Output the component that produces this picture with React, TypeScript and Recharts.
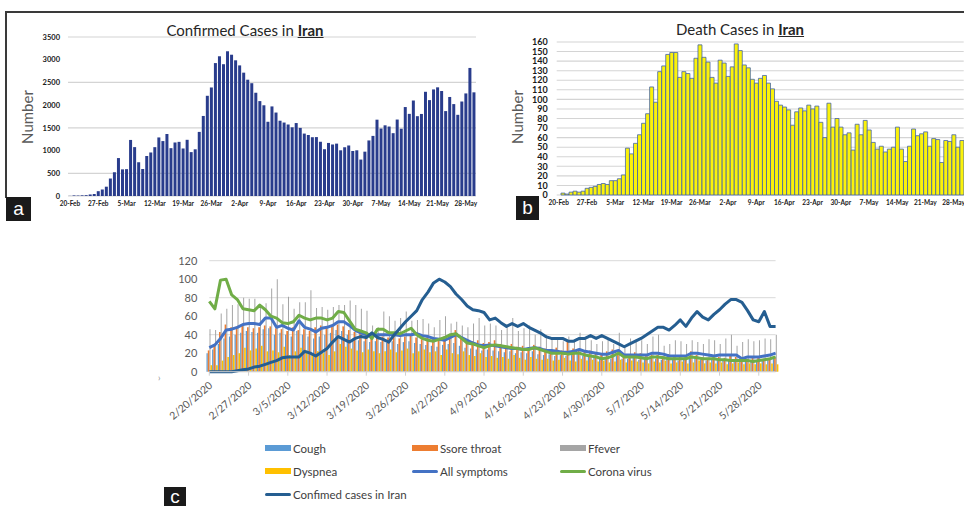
import React from "react";
import { BarChart, Bar, XAxis, YAxis, CartesianGrid, ComposedChart, Line } from "recharts";

const FONT = "Lato, 'Open Sans', Arial, sans-serif";

// Iran daily confirmed cases, 20-Feb .. 30-May
const confirmedDaily = [
  3, 13, 10, 15, 18, 34, 44, 106, 143, 205,
  385, 523, 835, 586, 591, 1234, 1076, 743, 595, 881,
  958, 1075, 1289, 1209, 1365, 1053, 1178, 1192, 1046, 1237,
  966, 1028, 1411, 1762, 2206, 2389, 2926, 3076, 2901, 3186, 3110,
  2987, 2875, 2715, 2560, 2483, 2274, 2089, 1997, 1634, 1972,
  1837, 1657, 1617, 1574, 1512, 1606, 1499, 1374, 1343, 1294,
  1297, 1194, 1030, 1168, 1134, 1153, 1006, 1073, 1112, 991,
  1006, 802, 976, 1223, 1323, 1680, 1485, 1556, 1529, 1383,
  1683, 1481, 1958, 1808, 2102, 1757, 1806, 2294, 2111, 2346,
  2392, 2311, 1869, 2180, 2023, 1787, 2080, 2258, 2819, 2282,
];

// Iran daily deaths, 20-Feb .. 30-May
const deathsDaily = [
  0, 2, 1, 3, 4, 3, 4, 7, 8, 9,
  11, 12, 11, 15, 15, 17, 21, 49, 43, 54,
  63, 75, 85, 113, 97, 129, 135, 147, 149, 149,
  123, 129, 127, 122, 143, 157, 144, 139, 123, 117, 141,
  138, 124, 134, 158, 151, 136, 133, 121, 117, 122,
  125, 117, 111, 98, 94, 92, 89, 73, 87, 91,
  88, 94, 90, 93, 76, 60, 96, 71, 80, 71,
  63, 65, 47, 74, 63, 78, 68, 55, 48, 51,
  45, 48, 50, 71, 48, 35, 51, 69, 62, 64,
  66, 51, 59, 58, 34, 57, 56, 63, 50, 57,
];

const aYTicks = [0, 500, 1000, 1500, 2000, 2500, 3000, 3500];
const bYTicks = [0, 10, 20, 30, 40, 50, 60, 70, 80, 90, 100, 110, 120, 130, 140, 150, 160];
const cYTicks = [0, 20, 40, 60, 80, 100, 120];
const cTickLabels = [
  "2/20/2020", "2/27/2020", "3/5/2020", "3/12/2020", "3/19/2020", "3/26/2020", "4/2/2020", "4/9/2020",
  "4/16/2020", "4/23/2020", "4/30/2020", "5/7/2020", "5/14/2020", "5/21/2020", "5/28/2020",
];

// panel c, 20-Feb .. 31-May
const cough = [
  20, 24, 30, 36, 38, 40, 42, 44, 43, 42, 46, 47, 40, 42, 40, 38, 44, 40, 38, 36,
  38, 40, 42, 45, 44, 40, 36, 34, 33, 32, 33, 32, 31, 33, 30, 32, 33, 31, 30, 29,
  28, 27, 29, 30, 31, 28, 26, 25, 24, 23, 24, 23, 22, 21, 22, 20, 21, 20, 22, 19,
  18, 19, 17, 18, 17, 18, 19, 17, 16, 15, 15, 16, 14, 17, 14, 14, 15, 13, 14, 15,
  14, 13, 14, 13, 12, 13, 15, 14, 13, 12, 13, 12, 13, 12, 11, 12, 12, 11, 12, 12,
  13, 14,
];
const soreThroat = [
  23, 30, 43, 51, 48, 49, 50, 48, 47, 48, 50, 49, 47, 46, 44, 48, 45, 46, 44, 48,
  50, 47, 49, 51, 49, 45, 43, 41, 40, 38, 40, 38, 37, 39, 36, 38, 40, 37, 35, 38,
  36, 35, 38, 40, 45, 38, 35, 33, 34, 31, 32, 34, 30, 28, 30, 27, 28, 26, 29, 27,
  25, 24, 26, 23, 33, 25, 24, 22, 23, 21, 20, 22, 24, 20, 19, 18, 21, 20, 19, 18,
  18, 17, 19, 16, 18, 17, 22, 18, 16, 15, 17, 16, 15, 17, 16, 15, 14, 16, 15, 14,
  14, 15,
];
const fever = [
  46, 45, 63, 68, 72, 73, 80, 79, 79, 73, 74, 90, 100, 73, 81, 68, 75, 75, 88, 69,
  70, 67, 70, 72, 72, 77, 72, 68, 66, 50, 48, 65, 60, 55, 58, 65, 55, 56, 57, 52,
  48, 56, 60, 52, 54, 50, 48, 52, 58, 50, 52, 50, 45, 48, 58, 44, 47, 50, 40, 46,
  40, 36, 35, 33, 38, 32, 42, 36, 34, 30, 33, 36, 30, 42, 28, 36, 33, 34, 30, 38,
  40, 28, 30, 34, 33, 30, 34, 32, 30, 35, 34, 30, 36, 40, 28, 32, 35, 33, 34, 36,
  35, 40,
];
const dyspnea = [
  7, 7, 12, 16, 18, 20, 26, 23, 25, 28, 22, 23, 21, 27, 18, 22, 26, 23, 20, 22,
  20, 18, 22, 30, 27, 25, 23, 21, 24, 22, 20, 22, 24, 21, 23, 25, 20, 22, 24, 21,
  22, 18, 24, 20, 19, 22, 18, 17, 20, 16, 17, 15, 16, 14, 18, 15, 13, 16, 14, 13,
  14, 12, 13, 15, 12, 11, 14, 12, 13, 11, 12, 10, 11, 13, 10, 12, 11, 10, 9, 11,
  10, 12, 9, 10, 11, 9, 10, 12, 9, 10, 9, 10, 8, 9, 10, 8, 9, 8, 9, 8,
  9, 8,
];
const allSymptoms = [
  26, 29, 36, 45, 46, 48, 51, 52, 52, 51, 58, 58, 48, 50, 47, 45, 55, 48, 46, 43,
  47, 48, 50, 54, 54, 50, 45, 42, 40, 40, 40, 40, 40, 40, 39, 40, 40, 41, 39, 38,
  36, 35, 34, 37, 40, 37, 34, 31, 29, 28, 29, 28, 27, 26, 25, 25, 24, 25, 26, 25,
  23, 23, 22, 21, 21, 22, 24, 22, 21, 20, 19, 19, 21, 23, 18, 18, 18, 18, 18, 20,
  20, 19, 17, 17, 17, 17, 20, 20, 19, 18, 17, 18, 18, 18, 18, 14, 16, 16, 16, 17,
  18, 20,
];
const coronaVirus = [
  76, 68, 99, 100, 83, 78, 68, 67, 66, 72, 67, 60, 58, 53, 52, 54, 61, 58, 56, 58,
  58, 56, 58, 65, 64, 55, 46, 44, 42, 36, 46, 46, 42, 42, 41, 44, 47, 40, 36, 34,
  33, 35, 37, 40, 41, 36, 31, 30, 28, 26, 28, 29, 28, 27, 26, 25, 24, 24, 26, 24,
  22, 20, 20, 20, 19, 20, 20, 18, 17, 16, 14, 15, 17, 20, 16, 16, 16, 15, 14, 16,
  16, 15, 14, 14, 14, 14, 16, 15, 14, 14, 14, 13, 13, 12, 12, 12, 12, 11, 12, 13,
  14, 16,
];
const confirmedScaled = [
  0, 0, 0, 0, 0, 1, 2, 3, 5, 6, 8, 10, 12, 15, 16, 16, 16, 22, 20, 17,
  21, 25, 32, 38, 35, 32, 36, 38, 37, 42, 37, 35, 32, 40, 47, 54, 60, 66, 78, 86,
  96, 100, 97, 92, 84, 78, 71, 67, 66, 64, 56, 58, 53, 49, 52, 49, 52, 48, 45, 42,
  38, 36, 36, 36, 33, 33, 36, 36, 39, 36, 39, 36, 33, 30, 27, 30, 33, 36, 40, 44,
  48, 48, 45, 50, 56, 49, 58, 65, 59, 56, 62, 67, 73, 78, 78, 75, 66, 56, 54, 65,
  49, 49,
];

const MONTHS = ["Jan", "Feb", "Mar", "Apr", "May", "Jun"];
const dayLabel = (i: number) => {
  const d = new Date(Date.UTC(2020, 1, 20 + i));
  return `${d.getUTCDate()}-${MONTHS[d.getUTCMonth()]}`;
};

const aData = confirmedDaily.map((v, i) => ({ day: dayLabel(i), cases: v }));
const bData = deathsDaily.map((v, i) => ({ day: dayLabel(i), deaths: v }));
const cData = cough.map((v, i) => ({
  i,
  cough: v,
  sore: soreThroat[i],
  fever: fever[i],
  dyspnea: dyspnea[i],
  all: allSymptoms[i],
  corona: coronaVirus[i],
  confirmed: confirmedScaled[i],
}));

const cBars = [
  { key: "cough", name: "Cough", color: "#5b9bd5", size: 1.3 },
  { key: "sore", name: "Ssore throat", color: "#ed7d31", size: 1.7 },
  { key: "fever", name: "Ffever", color: "#a5a5a5", size: 1.0 },
  { key: "dyspnea", name: "Dyspnea", color: "#ffc000", size: 1.6 },
];
const cLines = [
  { key: "all", name: "All symptoms", color: "#4472c4" },
  { key: "corona", name: "Corona virus", color: "#70ad47" },
  { key: "confirmed", name: "Confimed cases in Iran", color: "#255e91" },
];
const cWeekTicks = cTickLabels.map((_, k) => k * 7);

const abs = (l: number, t: number): React.CSSProperties => ({ position: "absolute", left: l, top: t });

function PanelTag({ x, y, w, h, text }: { x: number; y: number; w: number; h: number; text: string }) {
  return (
    <div
      style={{
        ...abs(x, y),
        width: w,
        height: h,
        background: "#1a1a1a",
        color: "#fff",
        fontFamily: "'Liberation Sans', Arial, sans-serif",
        fontSize: 19,
        lineHeight: `${h}px`,
        textAlign: "center",
      }}
    >
      {text}
    </div>
  );
}

function Title({ cx, y, text }: { cx: number; y: number; text: string }) {
  return (
    <div
      style={{
        ...abs(cx - 120, y),
        width: 240,
        textAlign: "center",
        fontFamily: FONT,
        fontSize: 15,
        color: "#262626",
        whiteSpace: "nowrap",
      }}
    >
      {text} <b style={{ textDecoration: "underline" }}>Iran</b>
    </div>
  );
}

function NumberLabel({ cx, cy }: { cx: number; cy: number }) {
  return (
    <div
      style={{
        ...abs(cx - 40, cy - 9),
        width: 80,
        height: 18,
        textAlign: "center",
        transform: "rotate(-90deg)",
        fontFamily: FONT,
        fontSize: 15,
        color: "#595959",
        lineHeight: "18px",
      }}
    >
      Number
    </div>
  );
}

const CTick = (props: any) => {
  const { x, y, payload } = props;
  const px = x + 4;
  const py = y + 9;
  return (
    <text
      x={px}
      y={py}
      transform={`rotate(-40 ${px} ${py})`}
      textAnchor="end"
      fontFamily={FONT}
      fontSize={10.5}
      fill="#595959"
    >
      {cTickLabels[Math.round(payload.value / 7)]}
    </text>
  );
};

function CLegend() {
  const items = [...cBars.map((b) => ({ ...b, bar: true })), ...cLines.map((l) => ({ ...l, bar: false }))];
  const colX = [265, 412, 560];
  const rowY = [448, 471, 494];
  return (
    <>
      {items.map((it, n) => {
        const x = colX[n % 3];
        const y = rowY[Math.floor(n / 3)];
        return (
          <div key={it.key} style={{ ...abs(x, y - 8), height: 16, display: "flex", alignItems: "center" }}>
            <div
              style={{
                width: 26,
                height: it.bar ? 6 : 3,
                borderRadius: it.bar ? 0 : 2,
                background: it.color,
              }}
            />
            <span style={{ marginLeft: 2, fontFamily: FONT, fontSize: 11.5, color: "#404040", whiteSpace: "nowrap" }}>
              {it.name}
            </span>
          </div>
        );
      })}
    </>
  );
}

const boldTick = (size: number) => ({ fontFamily: FONT, fontSize: size, fontWeight: 700, fill: "#1a1a1a" });

export default function App() {
  return (
    <div style={{ position: "absolute", left: 0, top: 0, width: 964, height: 506, overflow: "hidden", background: "#fff" }}>
      {/* frame */}
      <div style={{ ...abs(5, 11), width: 959, height: 1.5, background: "#3a3a3a" }} />
      <div style={{ ...abs(5, 11), width: 1.5, height: 187, background: "#3a3a3a" }} />

      {/* a: confirmed cases */}
      <div style={abs(0, 0)}>
        <BarChart width={500} height={220} data={aData} margin={{ top: 37, right: 24, bottom: 4, left: 8 }} barCategoryGap="12%">
          <CartesianGrid vertical={false} stroke="#d4d4d4" strokeWidth={1.2} />
          <YAxis
            width={60}
            domain={[0, 3500]}
            ticks={aYTicks}
            axisLine={false}
            tickLine={false}
            tickSize={0}
            tickMargin={8}
            tick={boldTick(7.5)}
          />
          <XAxis
            dataKey="day"
            interval={6}
            height={20}
            axisLine={false}
            tickLine={false}
            tickSize={0}
            tickMargin={5}
            tick={boldTick(6.5)}
          />
          <Bar dataKey="cases" fill="#293c8c" isAnimationActive={false} />
        </BarChart>
      </div>
      <Title cx={245} y={21} text="Confirmed Cases in" />
      <NumberLabel cx={27} cy={117} />
      <PanelTag x={6} y={197} w={25} h={24} text="a" />

      {/* b: death cases */}
      <div style={abs(500, 0)}>
        <BarChart width={466} height={220} data={bData} margin={{ top: 42, right: 2.3, bottom: 5, left: 6.7 }} barCategoryGap="6%">
          <CartesianGrid vertical={false} stroke="#d4d4d4" strokeWidth={1.1} />
          <YAxis
            width={50}
            domain={[0, 160]}
            ticks={bYTicks}
            interval={0}
            axisLine={false}
            tickLine={false}
            tickSize={0}
            tickMargin={9}
            tick={boldTick(9)}
          />
          <XAxis
            dataKey="day"
            interval={6}
            height={20}
            axisLine={false}
            tickLine={false}
            tickSize={0}
            tickMargin={5}
            tick={boldTick(6.5)}
          />
          <Bar dataKey="deaths" fill="#fbf20a" stroke="#3a5cab" strokeWidth={0.75} isAnimationActive={false} />
        </BarChart>
      </div>
      <Title cx={740} y={20} text="Death Cases in" />
      <NumberLabel cx={517} cy={117} />
      <PanelTag x={516} y={196} w={23} h={24} text="b" />

      {/* c: symptoms vs confirmed */}
      <div style={abs(0, 240)}>
        <ComposedChart
          width={964}
          height={266}
          data={cData}
          margin={{ top: 20.7, right: 188.4, bottom: 84.3, left: 169.3 }}
          barGap={0}
        >
          <CartesianGrid vertical={false} stroke="#d9d9d9" />
          <YAxis
            width={40}
            domain={[0, 120]}
            ticks={cYTicks}
            axisLine={false}
            tickLine={false}
            tickSize={0}
            tickMargin={12}
            tick={{ fontFamily: FONT, fontSize: 11, fill: "#595959" }}
          />
          <XAxis
            dataKey="i"
            type="number"
            domain={[0, 101]}
            ticks={cWeekTicks}
            interval={0}
            height={50}
            axisLine={{ stroke: "#d0d0d0" }}
            tickLine={{ stroke: "#d0d0d0" }}
            tickSize={4}
            tick={<CTick />}
          />
          {cBars.map((b) => (
            <Bar key={b.key} dataKey={b.key} name={b.name} fill={b.color} barSize={b.size} isAnimationActive={false} />
          ))}
          {cLines.map((l) => (
            <Line
              key={l.key}
              dataKey={l.key}
              name={l.name}
              stroke={l.color}
              strokeWidth={3}
              dot={false}
              strokeLinejoin="round"
              isAnimationActive={false}
            />
          ))}
        </ComposedChart>
      </div>
      <div style={{ ...abs(158, 372), fontFamily: FONT, fontSize: 9, color: "#8c8c8c" }}>›</div>
      <CLegend />
      <PanelTag x={164} y={487} w={22} h={20} text="c" />
    </div>
  );
}
